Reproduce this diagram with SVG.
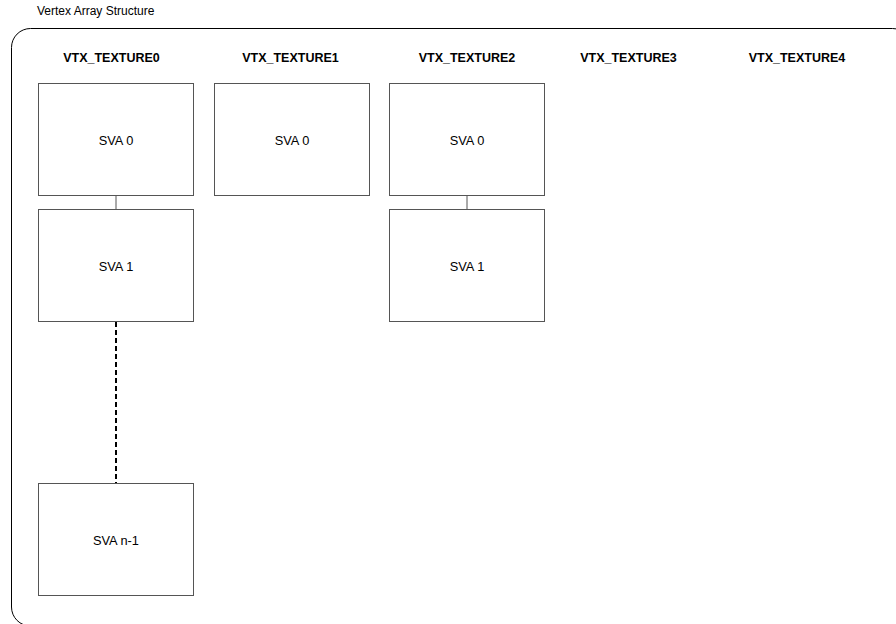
<svg xmlns="http://www.w3.org/2000/svg" width="896" height="624" viewBox="0 0 896 624">
<style>
.t{font-family:"Liberation Sans",Arial,sans-serif;fill:#000}
.h{font-size:12.5px;font-weight:bold;text-anchor:middle}
.l{font-size:12.8px;text-anchor:middle}
.b{fill:#fff;stroke:#555;stroke-width:1}
.c{stroke:#555;stroke-width:1;fill:none}
.d{stroke:#000;stroke-width:2;stroke-dasharray:5 3;fill:none}
</style>
<rect width="896" height="624" fill="#fff"/>
<text class="t" x="37" y="15" font-size="12">Vertex Array Structure</text>
<g id="frame"><rect x="11.5" y="28.5" width="900" height="597.5" rx="19" ry="19" fill="none" stroke="#000" stroke-width="1"/></g>
<g id="headings">
<text class="t h" x="111.5" y="61.5">VTX_TEXTURE0</text>
<text class="t h" x="290.5" y="61.5">VTX_TEXTURE1</text>
<text class="t h" x="467" y="61.5">VTX_TEXTURE2</text>
<text class="t h" x="628.5" y="61.5">VTX_TEXTURE3</text>
<text class="t h" x="797" y="61.5">VTX_TEXTURE4</text>
</g>
<g id="connectors">
<line class="c" x1="116" y1="195.5" x2="116" y2="209.5"/>
<line class="c" x1="467" y1="195.5" x2="467" y2="209.5"/>
<line class="d" x1="116" y1="322" x2="116" y2="483"/>
</g>
<g id="t0_sva0"><rect class="b" x="38.5" y="83.5" width="155" height="112"/><text class="t l" x="116" y="144.5">SVA 0</text></g>
<g id="t0_sva1"><rect class="b" x="38.5" y="209.5" width="155" height="112"/><text class="t l" x="116" y="270.5">SVA 1</text></g>
<g id="t0_svan1"><rect class="b" x="38.5" y="483.5" width="155" height="112"/><text class="t l" x="116" y="544.5">SVA n-1</text></g>
<g id="t1_sva0"><rect class="b" x="214.5" y="83.5" width="155" height="112"/><text class="t l" x="292" y="144.5">SVA 0</text></g>
<g id="t2_sva0"><rect class="b" x="389.5" y="83.5" width="155" height="112"/><text class="t l" x="467" y="144.5">SVA 0</text></g>
<g id="t2_sva1"><rect class="b" x="389.5" y="209.5" width="155" height="112"/><text class="t l" x="467" y="270.5">SVA 1</text></g>
</svg>
